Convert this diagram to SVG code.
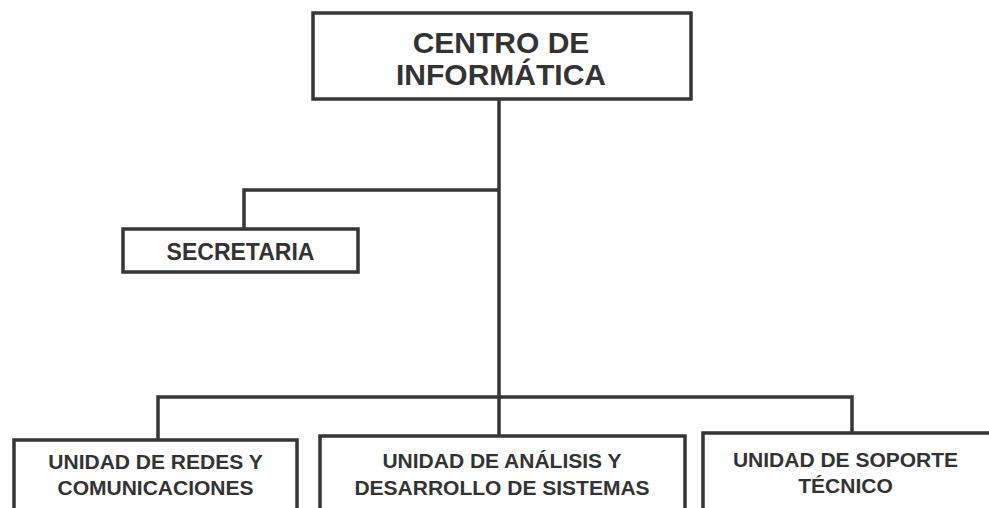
<svg xmlns="http://www.w3.org/2000/svg" width="989" height="508" viewBox="0 0 989 508">
<style>
.box{fill:#fff;stroke:#363636;stroke-width:3.5}
.ln{fill:none;stroke:#363636;stroke-width:3.5}
text{font-family:"Liberation Sans",Arial,sans-serif;font-weight:bold;fill:#333;text-anchor:middle}
.t1{font-size:30px}
.t2{font-size:23px}
.t3{font-size:21px}
</style>
<rect width="989" height="508" fill="#fff"/>
<g id="connectors">
<path class="ln" d="M499,99 V439"/>
<path class="ln" d="M499,190 H244 V229"/>
<path class="ln" d="M158,440 V397 H852 V433"/>
</g>
<g id="centro">
<rect class="box" x="313" y="13" width="378" height="86"/>
<text class="t1" x="501" y="53">CENTRO DE</text>
<text class="t1" x="501" y="85">INFORMÁTICA</text>
</g>
<g id="secretaria">
<rect class="box" x="123" y="229" width="235" height="43"/>
<text class="t2" x="240.5" y="260">SECRETARIA</text>
</g>
<g id="redes">
<rect class="box" x="14" y="440" width="283" height="90"/>
<text class="t3" x="155.5" y="469">UNIDAD DE REDES Y</text>
<text class="t3" x="155.5" y="495">COMUNICACIONES</text>
</g>
<g id="analisis">
<rect class="box" x="320" y="436" width="365" height="90"/>
<text class="t3" x="502" y="468">UNIDAD DE ANÁLISIS Y</text>
<text class="t3" x="502" y="495">DESARROLLO DE SISTEMAS</text>
</g>
<g id="soporte">
<rect class="box" x="703" y="433" width="290" height="90"/>
<text class="t3" x="845.5" y="467">UNIDAD DE SOPORTE</text>
<text class="t3" x="845.5" y="493">TÉCNICO</text>
</g>
</svg>
